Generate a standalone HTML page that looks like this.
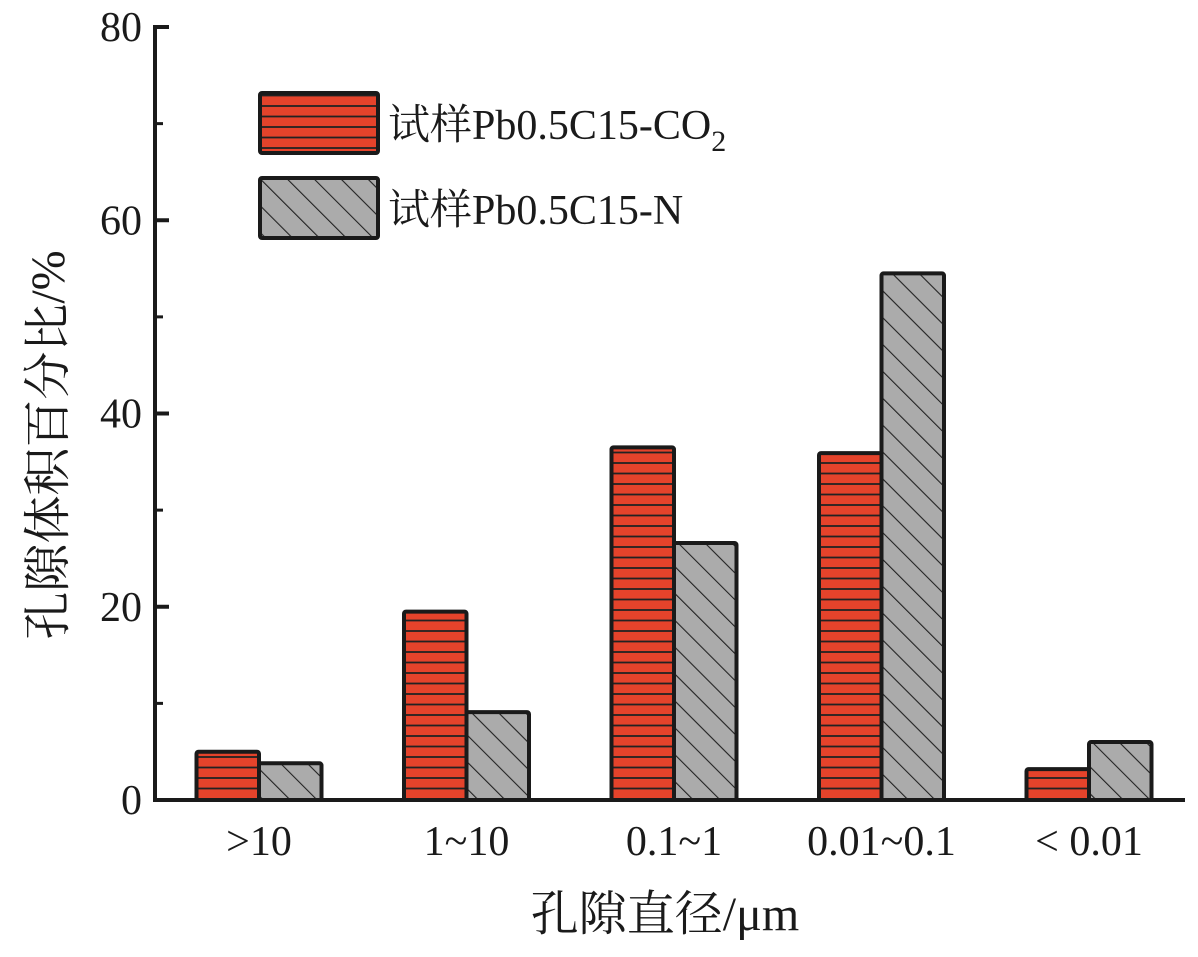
<!DOCTYPE html>
<html><head><meta charset="utf-8"><style>
body{margin:0;background:#fff;}
svg text{font-family:"Liberation Serif","Noto Serif CJK SC",serif;fill:#1a1a1a;}
</style></head><body>
<svg width="1198" height="952" viewBox="0 0 1198 952" xmlns="http://www.w3.org/2000/svg">
<defs>
<pattern id="hz" patternUnits="userSpaceOnUse" width="10" height="10.5"><rect width="10" height="10.5" fill="#e5432b"/><line x1="0" y1="1" x2="10" y2="1" stroke="#222" stroke-width="1.8"/></pattern>
<pattern id="dg" patternUnits="userSpaceOnUse" width="19" height="19" patternTransform="rotate(-45)"><rect width="19" height="19" fill="#ababab"/><line x1="0" y1="0" x2="0" y2="19" stroke="#222" stroke-width="2.2"/></pattern>
</defs>
<g id="plot"></g>
</svg>
<script>
const categories=[">10","1~10","0.1~1","0.01~0.1","< 0.01"];
const seriesCO2=[5.0,19.5,36.5,35.9,3.2];
const seriesN=[3.8,9.1,26.6,54.5,6.0];
const yTicks=[0,20,40,60,80];
const seriesNames=["试样Pb0.5C15-CO","试样Pb0.5C15-N"];
const NS="http://www.w3.org/2000/svg";
const g=document.getElementById('plot');
const x0=155,x1=1185,yB=800,yT=27;
const y=v=>yB-(v/80)*(yB-yT);
const cx=i=>259+i*207.5;
const bw=62.5;
function mk(t,a,p){const e=document.createElementNS(NS,t);for(const k in a)e.setAttribute(k,a[k]);(p||g).appendChild(e);return e;}
categories.forEach((c,i)=>{
 let r=mk('rect',{x:cx(i)-bw,y:y(seriesCO2[i]),width:bw,height:yB-y(seriesCO2[i]),fill:'url(#hz)',stroke:'#1a1a1a','stroke-width':4,rx:2});
 
 
 let n=mk('rect',{x:cx(i),y:y(seriesN[i]),width:bw,height:yB-y(seriesN[i]),fill:'url(#dg)',stroke:'#1a1a1a','stroke-width':4,rx:2});
 
 
 let t=mk('text',{x:cx(i),y:855,'font-size':42,'text-anchor':'middle',textLength:null});t.removeAttribute('textLength');t.textContent=c;
 
 
});
let ax=mk('line',{x1:x0,y1:yB,x2:x1,y2:yB,stroke:'#1a1a1a','stroke-width':4});


let ay=mk('line',{x1:x0,y1:yB+2,x2:x0,y2:yT-2,stroke:'#1a1a1a','stroke-width':4});


yTicks.forEach(v=>{
 mk('line',{x1:x0,y1:y(v),x2:x0+14,y2:y(v),stroke:'#1a1a1a','stroke-width':4});
 if(v<80)mk('line',{x1:x0,y1:y(v+10),x2:x0+8,y2:y(v+10),stroke:'#1a1a1a','stroke-width':3});
 let t=mk('text',{x:142,y:y(v)+14,'font-size':42,'text-anchor':'end'});t.textContent=v;
 
 
});
let xt=mk('text',{x:665,y:930,'font-size':48,'text-anchor':'middle'});xt.textContent='孔隙直径/μm';


let yt=mk('text',{x:0,y:0,'font-size':48,'text-anchor':'middle',transform:'translate(64,445) rotate(-90)'});yt.textContent='孔隙体积百分比/%';


[['url(#hz)',93],['url(#dg)',178]].forEach((p,i)=>{
 let r=mk('rect',{x:260,y:p[1],width:118,height:60,fill:p[0],stroke:'#1a1a1a','stroke-width':4,rx:2});
 
 
 let t=mk('text',{x:388,y:p[1]+46,'font-size':42});t.textContent=seriesNames[i];
 
 
 if(i==0){let s=mk('tspan',{'font-size':30,dy:12},t);s.textContent='2';}
});
</script>
</body></html>
